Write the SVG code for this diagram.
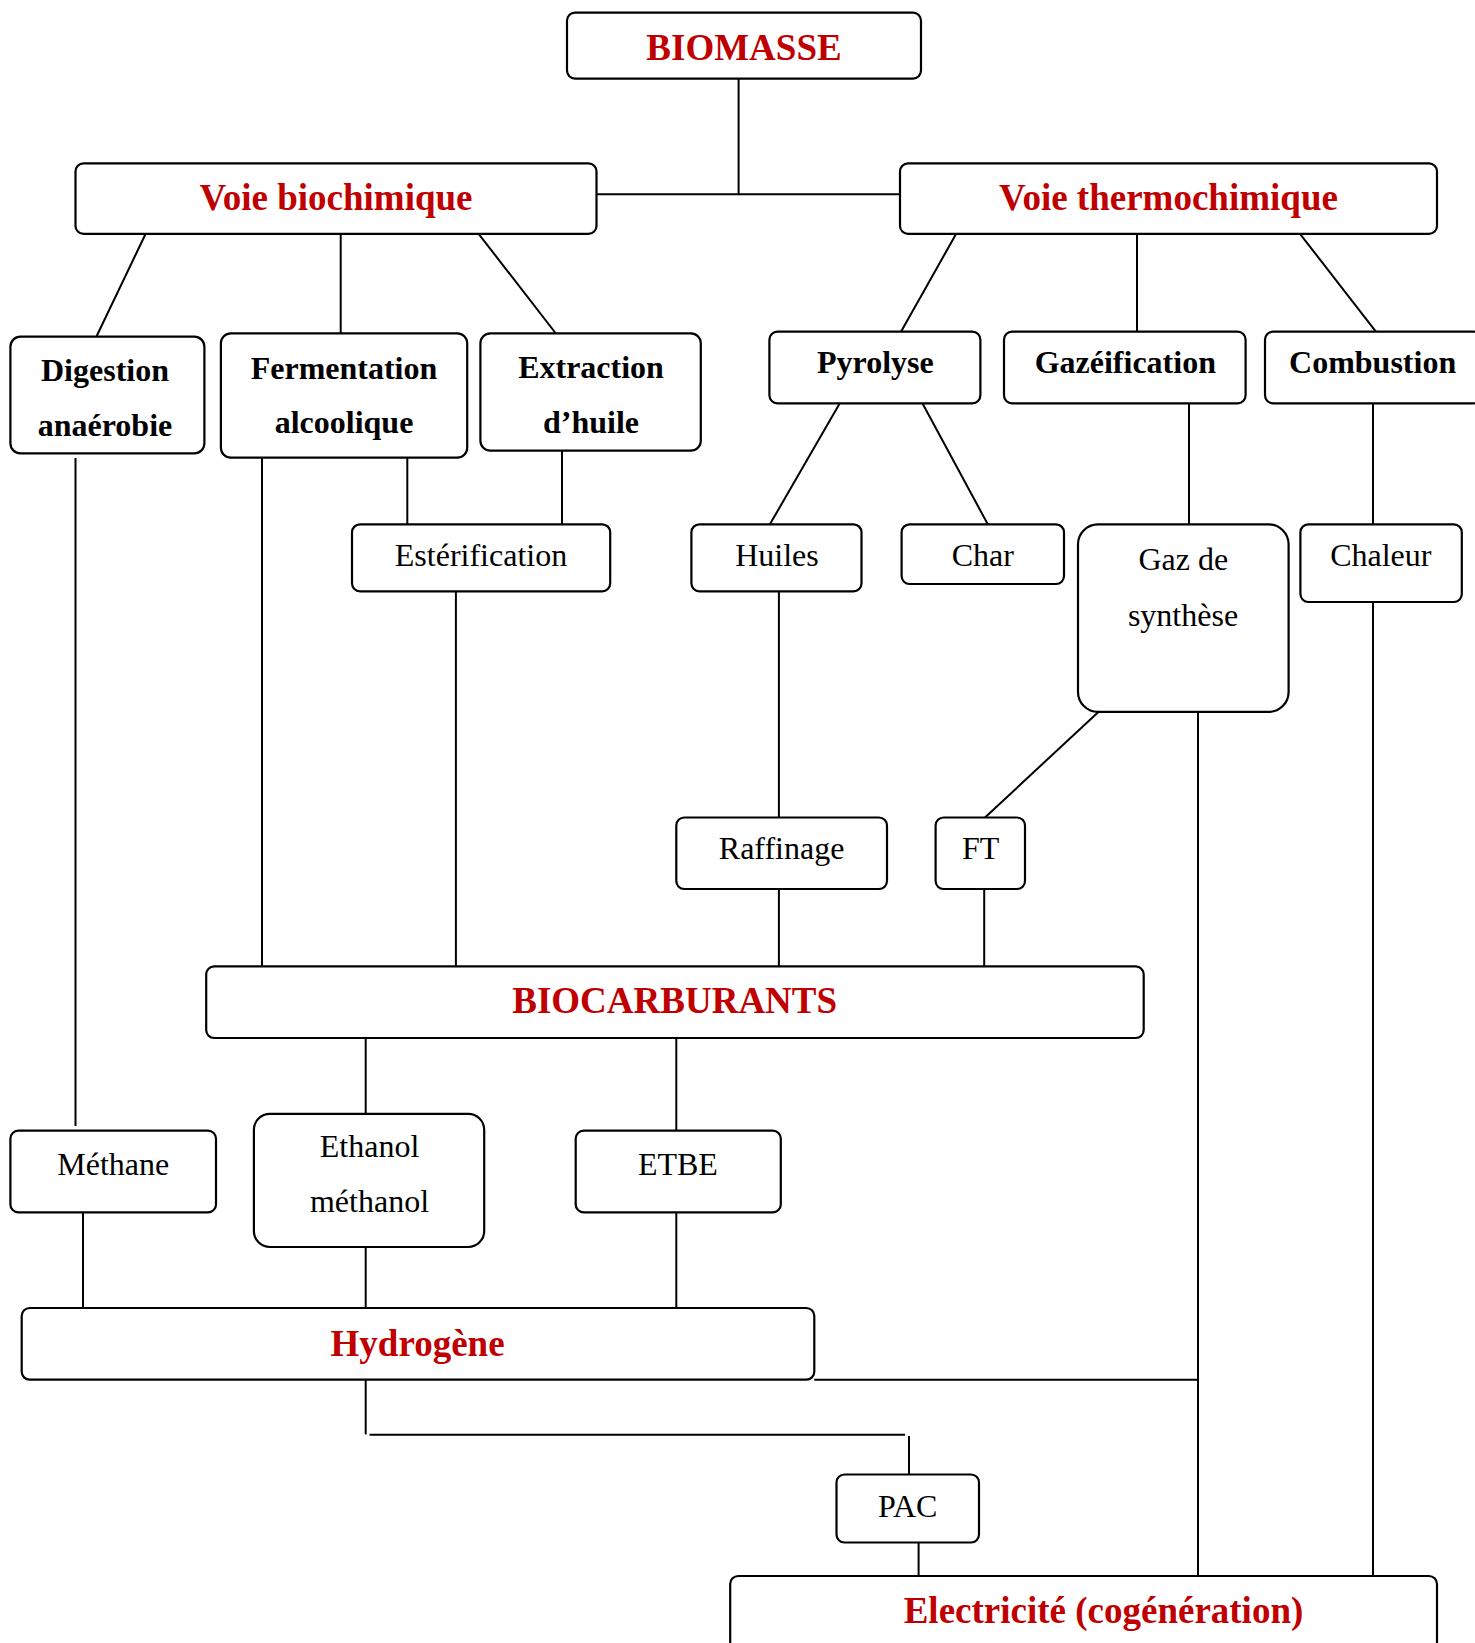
<svg xmlns="http://www.w3.org/2000/svg" width="1475" height="1643" viewBox="0 0 1475 1643">
<style>
  rect { fill: #fff; stroke: #000; stroke-width: 2.2; }
  .c line, .c polyline { stroke: #000; stroke-width: 2; fill: none; }
  text { font-family: "Liberation Serif", "Times New Roman", serif; text-anchor: middle; }
  .t { fill: #C00000; font-weight: bold; font-size: 37px; }
  .b { fill: #000; font-weight: bold; font-size: 32px; }
  .r { fill: #000; font-size: 32px; }
</style>
<rect x="0" y="0" width="1475" height="1643" style="stroke:none;fill:#fff"/>
<g class="c" id="connectors">
  <line x1="738.6" y1="78.6" x2="738.6" y2="194.3"/>
  <line x1="596" y1="194.3" x2="900" y2="194.3"/>
  <line x1="145.4" y1="234.3" x2="96.7" y2="336"/>
  <line x1="340.7" y1="234.3" x2="340.7" y2="333"/>
  <line x1="479" y1="234.3" x2="555.5" y2="333"/>
  <line x1="955.9" y1="234.3" x2="901" y2="331.7"/>
  <line x1="1137" y1="234.3" x2="1137" y2="331.7"/>
  <line x1="1300.4" y1="234.3" x2="1375.9" y2="331.7"/>
  <line x1="75.5" y1="458" x2="75.5" y2="1126"/>
  <line x1="262" y1="458" x2="262" y2="966.4"/>
  <line x1="407.3" y1="458" x2="407.3" y2="524.3"/>
  <line x1="562" y1="451" x2="562" y2="524.3"/>
  <line x1="455.9" y1="591.3" x2="455.9" y2="966.4"/>
  <line x1="839.8" y1="403.3" x2="769.9" y2="524.3"/>
  <line x1="922.4" y1="403.3" x2="987.8" y2="524.3"/>
  <line x1="1189" y1="403.3" x2="1189" y2="524.3"/>
  <line x1="1373" y1="403.3" x2="1373" y2="524.3"/>
  <line x1="778.9" y1="591.3" x2="778.9" y2="817.5"/>
  <line x1="1098.4" y1="711.9" x2="985" y2="817.5"/>
  <line x1="778.9" y1="889" x2="778.9" y2="966.4"/>
  <line x1="984.2" y1="889" x2="984.2" y2="966.4"/>
  <line x1="1198" y1="711.9" x2="1198" y2="1576"/>
  <line x1="1373" y1="602" x2="1373" y2="1576"/>
  <line x1="365.7" y1="1038" x2="365.7" y2="1113.9"/>
  <line x1="676.3" y1="1038" x2="676.3" y2="1130.6"/>
  <line x1="83" y1="1212.4" x2="83" y2="1308"/>
  <line x1="365.7" y1="1247" x2="365.7" y2="1308"/>
  <line x1="676.3" y1="1212.4" x2="676.3" y2="1308"/>
  <line x1="814.3" y1="1379.7" x2="1198" y2="1379.7"/>
  <line x1="365.7" y1="1379.7" x2="365.7" y2="1434.4"/>
  <line x1="369.5" y1="1434.7" x2="905" y2="1434.7"/>
  <line x1="909" y1="1436" x2="909" y2="1474.5"/>
  <line x1="918.6" y1="1542.5" x2="918.6" y2="1576"/>
</g>
<g id="biomasse"><rect x="567" y="12.6" width="354" height="66" rx="8"/><text class="t" x="744" y="60">BIOMASSE</text></g>
<g id="voie-bio"><rect x="75.5" y="163.4" width="521" height="70.5" rx="8"/><text class="t" x="336" y="210">Voie biochimique</text></g>
<g id="voie-thermo"><rect x="900" y="163.4" width="537" height="70.5" rx="8"/><text class="t" x="1168.5" y="210">Voie thermochimique</text></g>
<g id="digestion"><rect x="10.4" y="336.7" width="194" height="116.6" rx="10"/><text class="b" x="105" y="381">Digestion</text><text class="b" x="105" y="436">anaérobie</text></g>
<g id="fermentation"><rect x="220.9" y="333.3" width="246.3" height="124.4" rx="10"/><text class="b" x="344" y="379">Fermentation</text><text class="b" x="344" y="433">alcoolique</text></g>
<g id="extraction"><rect x="480.4" y="333.3" width="220.4" height="117.4" rx="10"/><text class="b" x="591" y="378">Extraction</text><text class="b" x="591" y="433">d’huile</text></g>
<g id="pyrolyse"><rect x="769.4" y="331.7" width="211" height="71.6" rx="8"/><text class="b" x="875.4" y="373">Pyrolyse</text></g>
<g id="gazeification"><rect x="1004" y="331.7" width="241.6" height="71.6" rx="8"/><text class="b" x="1125.3" y="373">Gazéification</text></g>
<g id="combustion"><rect x="1265" y="331.7" width="217" height="71.6" rx="8"/><text class="b" x="1372.6" y="373">Combustion</text></g>
<g id="esterification"><rect x="352" y="524.3" width="258.2" height="67" rx="8"/><text class="r" x="481" y="565.7">Estérification</text></g>
<g id="huiles"><rect x="691.4" y="524.3" width="170.1" height="67" rx="8"/><text class="r" x="777" y="565.7">Huiles</text></g>
<g id="char"><rect x="901.6" y="524.3" width="162.4" height="59.7" rx="8"/><text class="r" x="982.8" y="565.7">Char</text></g>
<g id="gaz"><rect x="1078" y="524.3" width="210.6" height="187.6" rx="20"/><text class="r" x="1183.3" y="570.3">Gaz de</text><text class="r" x="1183" y="626">synthèse</text></g>
<g id="chaleur"><rect x="1300.4" y="524.3" width="161.4" height="77.7" rx="8"/><text class="r" x="1380.8" y="565.7">Chaleur</text></g>
<g id="raffinage"><rect x="676.3" y="817.5" width="210.7" height="71.5" rx="8"/><text class="r" x="781.6" y="858.5">Raffinage</text></g>
<g id="ft"><rect x="935.6" y="817.5" width="89.4" height="71.5" rx="8"/><text class="r" x="980.6" y="858.5">FT</text></g>
<g id="biocarburants"><rect x="206.2" y="966.4" width="937.5" height="71.6" rx="8"/><text class="t" x="674.7" y="1013.4">BIOCARBURANTS</text></g>
<g id="methane"><rect x="10.4" y="1130.6" width="205.6" height="81.8" rx="8"/><text class="r" x="113.3" y="1174.5">Méthane</text></g>
<g id="ethanol"><rect x="253.9" y="1113.9" width="230.3" height="133.1" rx="16"/><text class="r" x="369.5" y="1157.4">Ethanol</text><text class="r" x="369.5" y="1212.4">méthanol</text></g>
<g id="etbe"><rect x="575.7" y="1130.6" width="205.1" height="81.8" rx="8"/><text class="r" x="677.9" y="1174.5">ETBE</text></g>
<g id="hydrogene"><rect x="21.7" y="1308" width="792.6" height="71.7" rx="8"/><text class="t" x="417.6" y="1355.5">Hydrogène</text></g>
<g id="pac"><rect x="836.5" y="1474.5" width="142.5" height="68" rx="8"/><text class="r" x="907.7" y="1516.5">PAC</text></g>
<g id="electricite"><rect x="730.2" y="1576" width="706.8" height="90" rx="8"/><text class="t" x="1103.5" y="1623">Electricité (cogénération)</text></g>
</svg>
